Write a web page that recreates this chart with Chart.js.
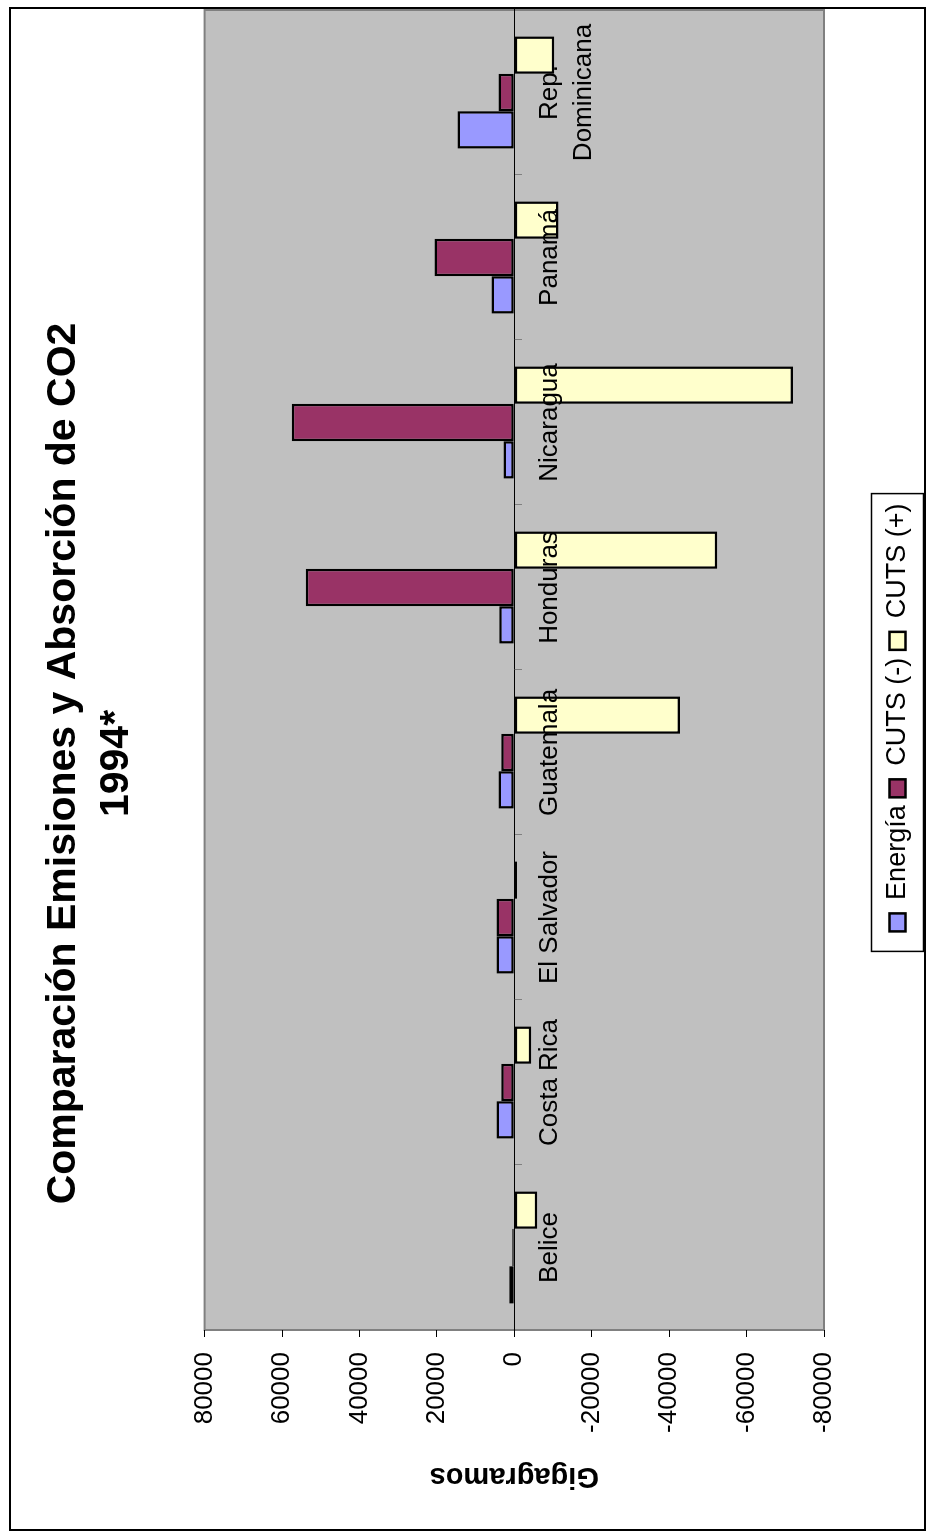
<!DOCTYPE html>
<html>
<head>
<meta charset="utf-8">
<script src="https://cdn.jsdelivr.net/npm/chart.js@4.4.1/dist/chart.umd.min.js"></script>
<style>
html, body { margin: 0; padding: 0; background: #fff; overflow: hidden; }
/* the chart is drawn upright and then turned a quarter turn, like the original */
#wrap { position: absolute; left: 0; top: 0; width: 1539px; height: 928px;
  transform-origin: 0 0; transform: translateY(1539px) rotate(-90deg); }
</style>
</head>
<body>
<div id="wrap"><canvas id="grafico" width="1539" height="928"></canvas></div>
<script>
// datos (Gg)
const paises = ['Belice', 'Costa Rica', 'El Salvador', 'Guatemala', 'Honduras', 'Nicaragua', 'Panamá', ['Rep.', 'Dominicana']];
const energia = [1300, 4600, 4600, 4100, 3900, 2800, 5900, 14700];
const cutsMenos = [500, 3400, 4600, 3400, 53900, 57500, 20600, 4100];
const cutsMas = [-5900, -4400, -700, -42800, -52400, -72000, -11400, -10300];
const yTicks = [-80000, -60000, -40000, -20000, 0, 20000, 40000, 60000, 80000];

Chart.defaults.font.family = "'Liberation Sans', Arial, sans-serif";
Chart.defaults.color = '#000';

const fondo = {
    id: 'fondo',
    afterLayout(chart) {
        // move the legend to where Excel put it
        const lg = chart.legend;
        lg.left += 46; lg.right += 46;
        lg.top += 52; lg.bottom += 52;
    },
    beforeDraw(chart) {
        const { ctx, chartArea: a } = chart;
        ctx.save();
        ctx.fillStyle = '#fff';
        ctx.fillRect(0, 0, chart.width, chart.height);
        ctx.strokeStyle = '#000';
        ctx.lineWidth = 2;
        ctx.strokeRect(9, 10, 1522, 915);
        ctx.fillStyle = '#c0c0c0';
        ctx.fillRect(a.left, a.top, a.right - a.left, a.bottom - a.top);
        ctx.strokeStyle = '#808080';
        ctx.lineWidth = 2;
        ctx.strokeRect(a.left, a.top, a.right - a.left, a.bottom - a.top);
        ctx.restore();
    },
    afterDraw(chart) {
        const hb = chart.legend.legendHitBoxes;
        if (!hb || !hb.length) return;
        const last = hb[hb.length - 1];
        const mid = hb[0].top + hb[0].height / 2;
        const ctx = chart.ctx;
        ctx.save();
        ctx.strokeStyle = '#000';
        ctx.lineWidth = 1.5;
        ctx.strokeRect(hb[0].left - 20, mid - 26, last.left + last.width + 10 - (hb[0].left - 20), 52);
        ctx.restore();
    }
};

new Chart(document.getElementById('grafico'), {
    type: 'bar',
    data: {
        labels: paises,
        datasets: [
            { label: 'Energía', data: energia, backgroundColor: '#9999ff' },
            { label: 'CUTS (-)', data: cutsMenos, backgroundColor: '#993366' },
            { label: 'CUTS (+)', data: cutsMas, backgroundColor: '#ffffcc' }
        ]
    },
    options: {
        responsive: false,
        animation: false,
        layout: { padding: { left: 22, right: 10, top: 0, bottom: 59 } },
        datasets: {
            bar: {
                borderColor: '#000',
                borderWidth: 2.5,
                borderSkipped: false,
                categoryPercentage: 0.68,
                barPercentage: 1.0
            }
        },
        scales: {
            x: {
                position: { y: 0 },
                grid: { drawOnChartArea: false, drawTicks: true, tickLength: 7, color: '#808080', offset: true, z: 1 },
                border: { display: true, color: '#000', width: 1, z: 1 },
                ticks: {
                    autoSkip: false, maxRotation: 0, padding: 12, z: 1,
                    font: { size: 26, lineHeight: 1.3 }, color: '#000'
                }
            },
            y: {
                min: -80000,
                max: 80000,
                afterBuildTicks: s => { s.ticks = yTicks.map(v => ({ value: v })); },
                afterFit: s => { s.width = 187; },
                grid: { drawOnChartArea: false, drawTicks: true, tickLength: 7, color: '#000' },
                border: { display: false },
                ticks: { padding: 15, font: { size: 26 }, color: '#000', callback: v => String(v) },
                title: {
                    display: true,
                    text: 'Gigagramos',
                    font: { size: 29, weight: 'bold' },
                    padding: { top: 24, bottom: 0 },
                    color: '#000'
                }
            }
        },
        plugins: {
            title: {
                display: true,
                text: ['Comparación Emisiones y Absorción de CO2', '1994*'],
                font: { size: 41, weight: 'bold', lineHeight: 1.3 },
                padding: { top: 37, bottom: 61 },
                color: '#000'
            },
            legend: {
                position: 'bottom',
                labels: { boxWidth: 18, boxHeight: 16, padding: 8, font: { size: 27 }, color: '#000' }
            },
            tooltip: { enabled: false }
        }
    },
    plugins: [fondo]
});
</script>
</body>
</html>
